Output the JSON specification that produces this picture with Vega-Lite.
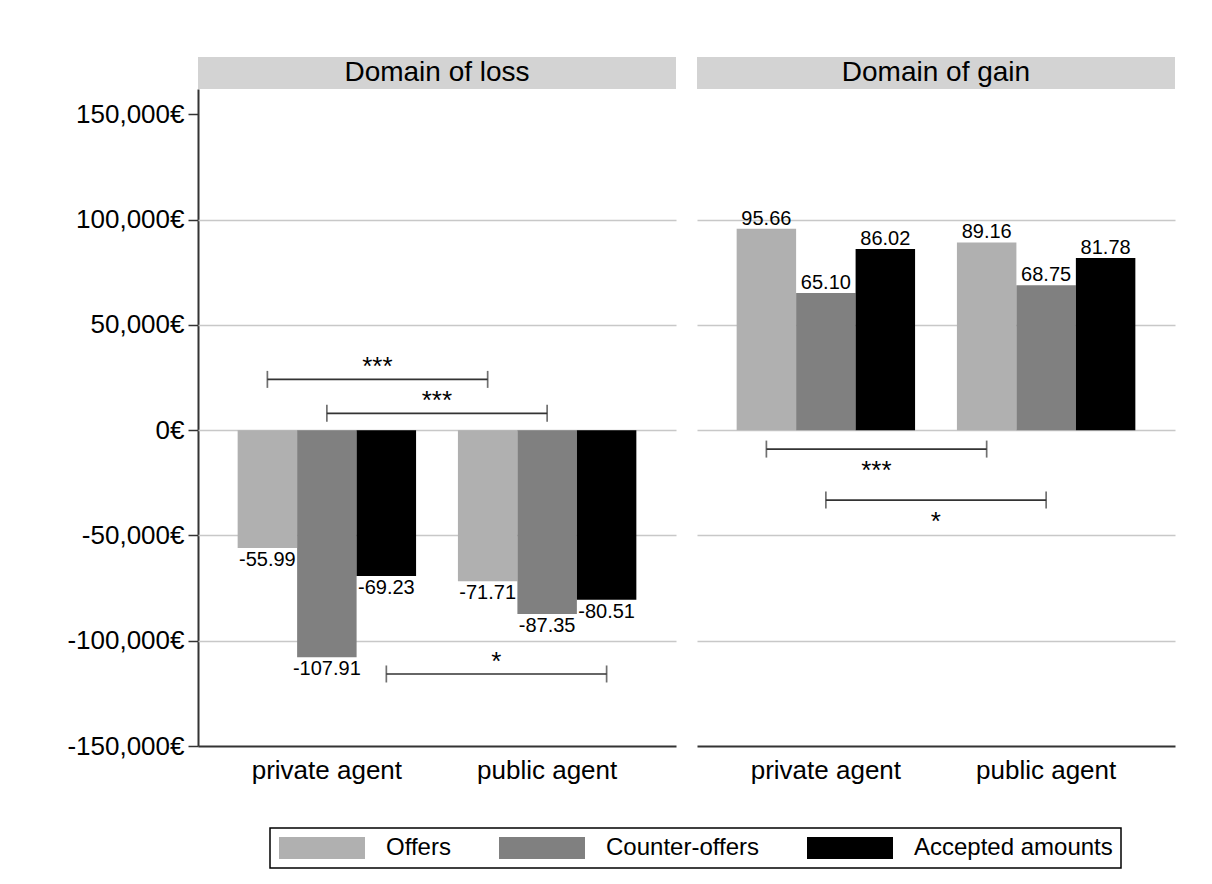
{
  "$schema": "https://vega.github.io/schema/vega-lite/v6.json",
  "background": "white",
  "padding": {"left": 66, "top": 56, "right": 37, "bottom": 18},
  "data": {"values": [
    {"kind": "header", "domain": "Domain of loss"},
    {"kind": "header", "domain": "Domain of gain"},
    {"kind": "bar", "domain": "Domain of loss", "agent": "private agent", "series": "Offers", "value": -55.99},
    {"kind": "bar", "domain": "Domain of loss", "agent": "private agent", "series": "Counter-offers", "value": -107.91},
    {"kind": "bar", "domain": "Domain of loss", "agent": "private agent", "series": "Accepted amounts", "value": -69.23},
    {"kind": "bar", "domain": "Domain of loss", "agent": "public agent", "series": "Offers", "value": -71.71},
    {"kind": "bar", "domain": "Domain of loss", "agent": "public agent", "series": "Counter-offers", "value": -87.35},
    {"kind": "bar", "domain": "Domain of loss", "agent": "public agent", "series": "Accepted amounts", "value": -80.51},
    {"kind": "bar", "domain": "Domain of gain", "agent": "private agent", "series": "Offers", "value": 95.66},
    {"kind": "bar", "domain": "Domain of gain", "agent": "private agent", "series": "Counter-offers", "value": 65.10},
    {"kind": "bar", "domain": "Domain of gain", "agent": "private agent", "series": "Accepted amounts", "value": 86.02},
    {"kind": "bar", "domain": "Domain of gain", "agent": "public agent", "series": "Offers", "value": 89.16},
    {"kind": "bar", "domain": "Domain of gain", "agent": "public agent", "series": "Counter-offers", "value": 68.75},
    {"kind": "bar", "domain": "Domain of gain", "agent": "public agent", "series": "Accepted amounts", "value": 81.78},
    {"kind": "bracket", "domain": "Domain of loss", "id": "L1", "agent": "private agent", "series": "Offers", "level": 24.1, "stars": "***", "side": "above"},
    {"kind": "bracket", "domain": "Domain of loss", "id": "L1", "agent": "public agent", "series": "Offers", "level": 24.1, "stars": "***", "side": "above"},
    {"kind": "bracket", "domain": "Domain of loss", "id": "L2", "agent": "private agent", "series": "Counter-offers", "level": 8.0, "stars": "***", "side": "above"},
    {"kind": "bracket", "domain": "Domain of loss", "id": "L2", "agent": "public agent", "series": "Counter-offers", "level": 8.0, "stars": "***", "side": "above"},
    {"kind": "bracket", "domain": "Domain of loss", "id": "L3", "agent": "private agent", "series": "Accepted amounts", "level": -115.8, "stars": "*", "side": "above"},
    {"kind": "bracket", "domain": "Domain of loss", "id": "L3", "agent": "public agent", "series": "Accepted amounts", "level": -115.8, "stars": "*", "side": "above"},
    {"kind": "bracket", "domain": "Domain of gain", "id": "R1", "agent": "private agent", "series": "Offers", "level": -9.0, "stars": "***", "side": "below"},
    {"kind": "bracket", "domain": "Domain of gain", "id": "R1", "agent": "public agent", "series": "Offers", "level": -9.0, "stars": "***", "side": "below"},
    {"kind": "bracket", "domain": "Domain of gain", "id": "R2", "agent": "private agent", "series": "Counter-offers", "level": -33.2, "stars": "*", "side": "below"},
    {"kind": "bracket", "domain": "Domain of gain", "id": "R2", "agent": "public agent", "series": "Counter-offers", "level": -33.2, "stars": "*", "side": "below"}
  ]},
  "facet": {
    "column": {"field": "domain", "type": "nominal", "sort": ["Domain of loss", "Domain of gain"], "header": {"title": null, "labels": false}}
  },
  "spacing": 21,
  "spec": {
    "width": 478,
    "height": 657,
    "layer": [
      {
        "transform": [{"filter": "datum.kind === 'header'"}],
        "mark": {"type": "rect", "color": "#d3d3d3", "clip": false},
        "encoding": {
          "y": {"datum": 162, "type": "quantitative", "title": null, "scale": {"domain": [-150, 162], "nice": false, "zero": false}},
          "y2": {"datum": 177.2}
        }
      },
      {
        "transform": [{"filter": "datum.kind === 'header'"}],
        "mark": {"type": "text", "fontSize": 28, "baseline": "middle", "color": "black", "clip": false},
        "encoding": {
          "y": {"datum": 169.8, "type": "quantitative", "title": null},
          "text": {"field": "domain"}
        }
      },
      {
        "transform": [{"filter": "datum.kind === 'bar'"}],
        "mark": {"type": "bar"},
        "encoding": {
          "x": {"field": "agent", "type": "nominal", "title": null, "sort": ["private agent", "public agent"],
            "scale": {"paddingInner": 0.19, "paddingOuter": 0.18},
            "axis": {"labelAngle": 0, "labelFontSize": 26, "ticks": false, "labelPadding": 11, "domainColor": "#333333", "domainWidth": 2, "labelColor": "black"}},
          "xOffset": {"field": "series", "type": "nominal", "sort": ["Offers", "Counter-offers", "Accepted amounts"], "scale": {"paddingInner": 0, "paddingOuter": 0}},
          "y": {"field": "value", "type": "quantitative", "title": null,
            "scale": {"domain": [-150, 162], "nice": false, "zero": false},
            "axis": {"values": [-150, -100, -50, 0, 50, 100, 150],
              "labelExpr": "replace(format(datum.value * 1000, ','), '\u2212', '-') + '€'",
              "labelFontSize": 26, "labelColor": "black", "labelPadding": 4,
              "tickSize": 10, "tickColor": "#333333", "tickWidth": 1.5,
              "domainColor": "#333333", "domainWidth": 2,
              "grid": true, "gridColor": "#c8c8c8", "gridWidth": 1.5,
              "gridOpacity": {"condition": {"test": "datum.value === 150 || datum.value === -150", "value": 0}, "value": 1}}},
          "color": {"field": "series", "type": "nominal", "sort": ["Offers", "Counter-offers", "Accepted amounts"],
            "scale": {"domain": ["Offers", "Counter-offers", "Accepted amounts"], "range": ["#b0b0b0", "#808080", "#000000"]},
            "legend": {"orient": "none", "legendX": 72, "legendY": 739, "direction": "horizontal", "title": null,
              "symbolType": "M-1,-1H6.818V1H-1Z", "symbolSize": 484, "symbolStrokeWidth": 0,
              "labelFontSize": 24, "labelColor": "black", "labelOffset": 84, "labelLimit": 400, "columnPadding": 47,
              "strokeColor": "black", "padding": 8}}
        }
      },
      {
        "transform": [{"filter": "datum.kind === 'bar' && datum.value < 0"}],
        "mark": {"type": "text", "fontSize": 20, "baseline": "top", "dy": 2, "color": "black",
          "text": {"expr": "replace(format(datum.value, '.2f'), '\u2212', '-')"}},
        "encoding": {
          "x": {"field": "agent", "type": "nominal", "sort": ["private agent", "public agent"]},
          "xOffset": {"field": "series", "type": "nominal", "sort": ["Offers", "Counter-offers", "Accepted amounts"]},
          "y": {"field": "value", "type": "quantitative", "title": null}
        }
      },
      {
        "transform": [{"filter": "datum.kind === 'bar' && datum.value >= 0"}],
        "mark": {"type": "text", "fontSize": 20, "baseline": "alphabetic", "dy": -4, "color": "black",
          "text": {"expr": "format(datum.value, '.2f')"}},
        "encoding": {
          "x": {"field": "agent", "type": "nominal", "sort": ["private agent", "public agent"]},
          "xOffset": {"field": "series", "type": "nominal", "sort": ["Offers", "Counter-offers", "Accepted amounts"]},
          "y": {"field": "value", "type": "quantitative", "title": null}
        }
      },
      {
        "transform": [{"filter": "datum.kind === 'bracket'"}],
        "mark": {"type": "line", "color": "#333333", "strokeWidth": 1.7},
        "encoding": {
          "x": {"field": "agent", "type": "nominal", "sort": ["private agent", "public agent"]},
          "xOffset": {"field": "series", "type": "nominal", "sort": ["Offers", "Counter-offers", "Accepted amounts"]},
          "y": {"field": "level", "type": "quantitative", "title": null},
          "detail": {"field": "id"}
        }
      },
      {
        "transform": [{"filter": "datum.kind === 'bracket'"}],
        "mark": {"type": "tick", "orient": "vertical", "color": "#333333", "size": 17, "thickness": 1.7},
        "encoding": {
          "x": {"field": "agent", "type": "nominal", "sort": ["private agent", "public agent"]},
          "xOffset": {"field": "series", "type": "nominal", "sort": ["Offers", "Counter-offers", "Accepted amounts"]},
          "y": {"field": "level", "type": "quantitative", "title": null}
        }
      },
      {
        "transform": [{"filter": "datum.kind === 'bracket' && datum.agent === 'private agent' && datum.side === 'above'"}],
        "mark": {"type": "text", "fontSize": 26, "baseline": "alphabetic", "dx": 110, "dy": -4, "color": "black"},
        "encoding": {
          "x": {"field": "agent", "type": "nominal", "sort": ["private agent", "public agent"]},
          "xOffset": {"field": "series", "type": "nominal", "sort": ["Offers", "Counter-offers", "Accepted amounts"]},
          "y": {"field": "level", "type": "quantitative", "title": null},
          "text": {"field": "stars"}
        }
      },
      {
        "transform": [{"filter": "datum.kind === 'bracket' && datum.agent === 'private agent' && datum.side === 'below'"}],
        "mark": {"type": "text", "fontSize": 26, "baseline": "alphabetic", "dx": 110, "dy": 30, "color": "black"},
        "encoding": {
          "x": {"field": "agent", "type": "nominal", "sort": ["private agent", "public agent"]},
          "xOffset": {"field": "series", "type": "nominal", "sort": ["Offers", "Counter-offers", "Accepted amounts"]},
          "y": {"field": "level", "type": "quantitative", "title": null},
          "text": {"field": "stars"}
        }
      }
    ]
  },
  "config": {
    "font": "Liberation Sans",
    "view": {"stroke": null},
    "legend": {"labelFont": "Liberation Sans", "strokeWidth": 1.5}
  }
}
